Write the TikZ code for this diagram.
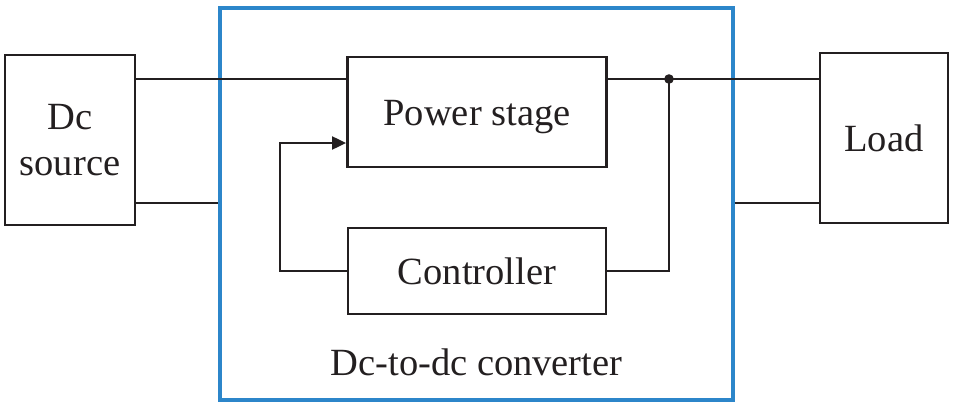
\documentclass[tikz,border=0pt]{standalone}
\usepackage{fontspec}
\setmainfont{Liberation Serif}
\usetikzlibrary{arrows.meta}
\definecolor{convblue}{RGB}{44,134,202}
\definecolor{ink}{RGB}{35,31,32}
\tikzset{
  blk/.style={draw=ink, line width=2.8pt, rectangle, inner sep=0pt, text=ink,
    align=center, font=\fontsize{38.5}{46}\selectfont},
  wire/.style={draw=ink, line width=2pt},
  conv/.style={draw=convblue, line width=3.4pt, rectangle, inner sep=0pt},
  lbl/.style={text=ink, font=\fontsize{38.5}{46}\selectfont, inner sep=0pt},
}
\begin{document}
\begin{tikzpicture}[x=1pt, y=-1pt]
\useasboundingbox (0,0) rectangle (955,409);
% converter frame
\node[conv, minimum width=513pt, minimum height=392pt] (conv) at (476.5,204) {};
\node[lbl, anchor=base] (convlbl) at (476.5,375) {Dc-to-dc converter};
% blocks
\node[blk, minimum width=130pt, minimum height=170pt] (src) at (70,140) {Dc\\source};
\node[blk, minimum width=128pt, minimum height=170pt] (load) at (884,138) {Load};
\node[blk, minimum width=259pt, minimum height=110pt, text height=26pt, text depth=0pt] (ps) at (477,112) {Power stage};
\node[blk, minimum width=258pt, minimum height=86pt] (ctl) at (477,271) {Controller};
% level coordinates
\coordinate (top) at (0,79);
\coordinate (bot) at (0,203);
\coordinate (j) at (669,79);
\coordinate (fbx) at (280,143);
% wires
\draw[wire] (src.east |- top) -- (ps.west |- top);
\draw[wire] (src.east |- bot) -- (conv.west |- bot);
\draw[wire] (ps.east |- top) -- (load.west |- top);
\draw[wire] (conv.east |- bot) -- (load.west |- bot);
\draw[wire] (j) -- (j |- ctl.east) -- (ctl.east);
\draw[wire, -{Triangle[length=14pt,width=13pt]}] (ctl.west) -- (fbx |- ctl.west) -- (fbx) -- (ps.west |- fbx);
\fill[ink] (j) circle (4.8pt);
\end{tikzpicture}
\end{document}
